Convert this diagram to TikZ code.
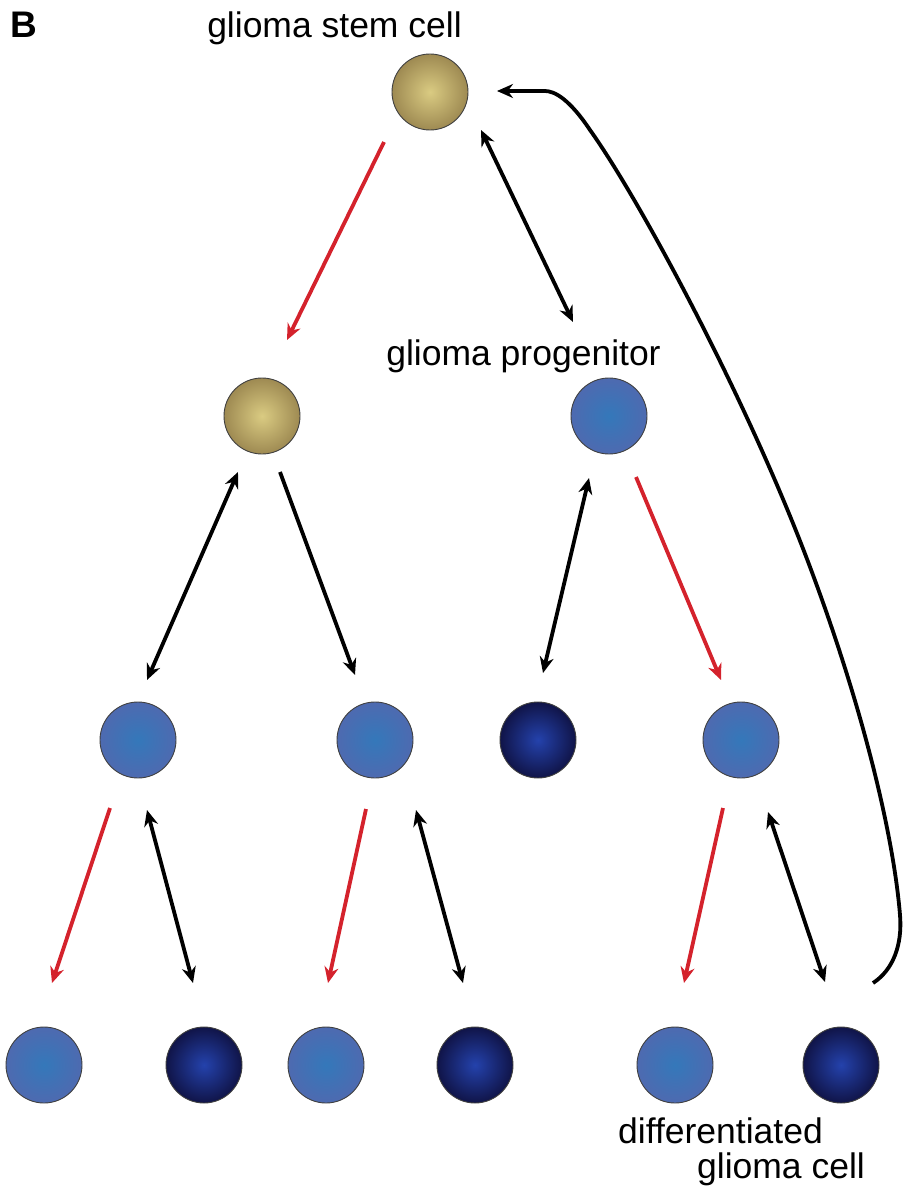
\documentclass[tikz,border=0pt]{standalone}
\usepackage{fontspec}
\setmainfont{Liberation Sans}
\usetikzlibrary{arrows.meta}
\definecolor{tanin}{RGB}{218,203,130}
\definecolor{tanout}{RGB}{158,138,82}
\definecolor{bluein}{RGB}{52,120,186}
\definecolor{blueout}{RGB}{78,106,176}
\definecolor{darkin}{RGB}{36,66,172}
\definecolor{darkout}{RGB}{16,20,72}
\definecolor{arrred}{RGB}{212,34,44}
\tikzset{
  cell/.style={circle,minimum size=76pt,inner sep=0pt,draw=black!75,line width=0.9pt},
  tancell/.style={cell,inner color=tanin,outer color=tanout},
  bluecell/.style={cell,inner color=bluein,outer color=blueout},
  darkcell/.style={cell,inner color=darkin,outer color=darkout},
  tip/.style={Stealth[length=16pt,width=14pt]},
  conn/.style={line width=3.8pt,-{Stealth[length=16pt,width=14pt]}},
  redconn/.style={conn,draw=arrred},
  dblconn/.style={line width=3.8pt,{Stealth[length=16pt,width=14pt]}-{Stealth[length=16pt,width=14pt]}},
  lbl/.style={font=\fontsize{35.5}{40}\selectfont,inner sep=0pt,anchor=base}
}
\begin{document}
\begin{tikzpicture}[x=1pt,y=-1pt]
\useasboundingbox (0,0) rectangle (903,1190);
% cells
\node[tancell] (stem) at (430,92) {};
\node[tancell] (l2a) at (262,416) {};
\node[bluecell] (prog) at (609,416) {};
\node[bluecell] (l3a) at (138,740) {};
\node[bluecell] (l3b) at (375,740) {};
\node[darkcell] (l3c) at (538,740) {};
\node[bluecell] (l3d) at (741,740) {};
\node[bluecell] (l4a) at (44,1065) {};
\node[darkcell] (l4b) at (204,1065) {};
\node[bluecell] (l4c) at (326,1065) {};
\node[darkcell] (l4d) at (475,1065) {};
\node[bluecell] (l4e) at (675,1065) {};
\node[darkcell] (l4f) at (841,1065) {};
% labels
\node[lbl,font=\fontsize{37}{40}\selectfont\bfseries,anchor=base west] (B) at (10,38) {B};
\node[lbl] (tstem) at (334.5,38) {glioma stem cell};
\node[lbl] (tprog) at (523.5,365) {glioma progenitor};
\node[lbl] (tdiff) at (720.5,1143) {differentiated};
\node[lbl] (tcell) at (781,1178) {glioma cell};
% connectors
\draw[redconn] ([shift={(-46,50)}]stem.center) -- ([shift={(25,-76)}]l2a.center);
\draw[dblconn] ([shift={(51,38)}]stem.center) -- ([shift={(-36,-94)}]prog.center);
\draw[dblconn] ([shift={(-24,56)}]l2a.center) -- ([shift={(9,-60)}]l3a.center);
\draw[conn] ([shift={(18,56)}]l2a.center) -- ([shift={(-20,-65)}]l3b.center);
\draw[dblconn] ([shift={(-20,62)}]prog.center) -- ([shift={(5,-67)}]l3c.center);
\draw[redconn] ([shift={(27,61)}]prog.center) -- ([shift={(-20,-60)}]l3d.center);
\draw[redconn] ([shift={(-28,68)}]l3a.center) -- ([shift={(8,-82)}]l4a.center);
\draw[dblconn] ([shift={(9,70)}]l3a.center) -- ([shift={(-11,-82)}]l4b.center);
\draw[redconn] ([shift={(-9,69)}]l3b.center) -- ([shift={(2,-82)}]l4c.center);
\draw[dblconn] ([shift={(41,70)}]l3b.center) -- ([shift={(-12,-82)}]l4d.center);
\draw[redconn] ([shift={(-18,68)}]l3d.center) -- ([shift={(9,-82)}]l4e.center);
\draw[dblconn] ([shift={(27,72)}]l3d.center) -- ([shift={(-16,-83)}]l4f.center);
\draw[conn] ([shift={(32,-82)}]l4f.center) .. controls (893,970) and (902.5,945) .. (900,915)
  .. controls (893,830) and (860,700) .. (810,567)
  .. controls (748,401) and (640,200) .. (590,130)
  .. controls (570,100) and (555,91) .. (545,91) -- ([shift={(67,-1)}]stem.center);
\end{tikzpicture}
\end{document}
